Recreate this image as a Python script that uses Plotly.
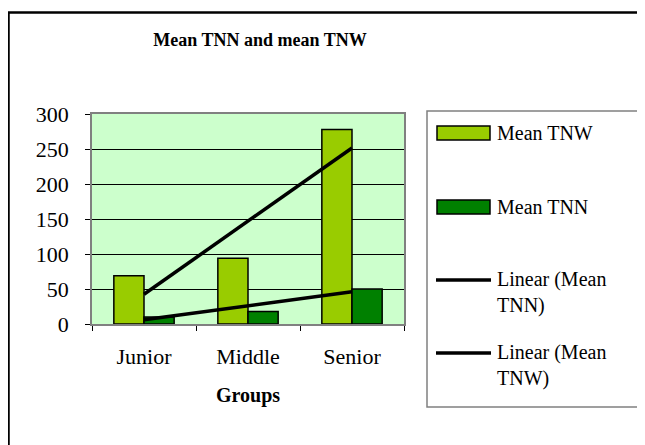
import numpy as np
import plotly.graph_objects as go

groups = ["Junior", "Middle", "Senior"]
mean_tnw = [69, 94, 278]
mean_tnn = [10, 18, 50]
y_ticks = [0, 50, 100, 150, 200, 250, 300]

FONT = "Liberation Serif, Times New Roman, serif"
OFF = 8  # the page body adds an 8px margin, so work in screen pixels and shift back
W, H = 645 - OFF, 445 - OFF
L, R, T, B = 92 - OFF, 404 - OFF, 114 - OFF, 324 - OFF  # plot area in figure pixels


def px(x):
    # screen pixel -> paper x
    return (x - OFF - L) / (R - L)


def py(y):
    # screen pixel -> paper y
    return (B - (y - OFF)) / (B - T)


def trend(values):
    # least squares line, same as Excel's "Linear" trendline
    xs = np.arange(1, len(values) + 1)
    k, c = np.polyfit(xs, values, 1)
    return list(k * xs + c)


fig = go.Figure()
fig.add_trace(go.Bar(x=groups, y=mean_tnw, name="Mean TNW",
                     marker=dict(color="#99CC00", line=dict(color="black", width=1.5))))
fig.add_trace(go.Bar(x=groups, y=mean_tnn, name="Mean TNN",
                     marker=dict(color="#008000", line=dict(color="black", width=1.5))))
fig.add_trace(go.Scatter(x=groups, y=trend(mean_tnn), mode="lines", name="Linear (Mean TNN)",
                         line=dict(color="black", width=3.5)))
fig.add_trace(go.Scatter(x=groups, y=trend(mean_tnw), mode="lines", name="Linear (Mean TNW)",
                         line=dict(color="black", width=3.5)))

# outer chart border (right and bottom run off the picture)
shapes = [dict(type="rect", xref="paper", yref="paper", x0=px(8.5), x1=px(700),
               y0=py(500), y1=py(12.5), line=dict(color="black", width=2.5), layer="below")]

# legend drawn by hand so the keys look like the Excel ones
shapes.append(dict(type="rect", xref="paper", yref="paper", x0=px(427), x1=px(700),
                   y0=py(407), y1=py(111), line=dict(color="#808080", width=1.5)))
annotations = []
legend_rows = [
    ("bar", "#99CC00", "Mean TNW", 133),
    ("bar", "#008000", "Mean TNN", 207),
    ("line", "black", "Linear (Mean<br>TNN)", 280),
    ("line", "black", "Linear (Mean<br>TNW)", 353),
]
for kind, color, label, yc in legend_rows:
    ytext = yc
    if kind == "bar":
        shapes.append(dict(type="rect", xref="paper", yref="paper", x0=px(437), x1=px(490),
                           y0=py(yc + 7), y1=py(yc - 7), fillcolor=color,
                           line=dict(color="black", width=1.5)))
    else:
        shapes.append(dict(type="line", xref="paper", yref="paper", x0=px(436), x1=px(491),
                           y0=py(yc), y1=py(yc), line=dict(color="black", width=3.5)))
        ytext = yc + 12
    annotations.append(dict(text=label, xref="paper", yref="paper", x=px(495), y=py(ytext),
                            xanchor="left", yanchor="middle", align="left", showarrow=False,
                            font=dict(family=FONT, size=20, color="black")))

fig.update_layout(
    width=W, height=H,
    margin=dict(l=L, r=W - R, t=T, b=H - B),
    paper_bgcolor="white",
    plot_bgcolor="#CCFFCC",
    barmode="group", bargap=0.42, bargroupgap=0,
    showlegend=False,
    font=dict(family=FONT, size=21, color="black"),
    title=dict(text="<b>Mean TNN and mean TNW</b>", x=(260 - OFF) / W, xanchor="center",
               y=1 - (40 - OFF) / H, yanchor="middle",
               font=dict(family=FONT, size=18, color="black")),
    shapes=shapes,
    annotations=annotations,
)
fig.update_xaxes(type="category", showline=True, linecolor="#808080", linewidth=1.5, mirror=True,
                 ticks="outside", tickson="boundaries", ticklen=5, tickcolor="black",
                 ticklabelstandoff=12, showgrid=False, tickfont=dict(size=22),
                 title=dict(text="<b>Groups</b>", standoff=20, font=dict(family=FONT, size=20)))
fig.update_yaxes(range=[0, 300], tickvals=y_ticks, showline=True, linecolor="#808080",
                 linewidth=1.5, mirror=True, ticks="outside", ticklen=5, tickcolor="black",
                 ticklabelstandoff=12, showgrid=True, gridcolor="black", gridwidth=1,
                 zeroline=False, tickfont=dict(size=22))

fig.write_html("out.html")
